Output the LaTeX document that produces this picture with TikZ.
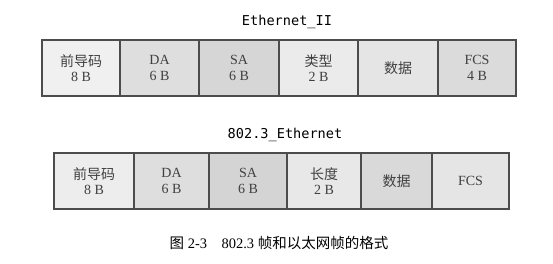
\documentclass[tikz,border=0pt]{standalone}
\usepackage{fontspec}
\setmainfont{Liberation Serif}
\newfontfamily\cjk{Noto Sans CJK SC}
\newfontfamily\monofont{DejaVu Sans Mono}
\begin{document}
\begin{tikzpicture}[x=1pt,y=1pt,
  cell/.style={draw=black!70, line width=1.3pt, minimum height=56pt,
    inner sep=0pt, align=center, font=\fontsize{14}{15.5}\selectfont, text=black!75},
  rowtitle/.style={font=\monofont\fontsize{13.6}{16}\selectfont, text=black},
  caption/.style={font=\fontsize{14.5}{16}\selectfont, text=black}]
\useasboundingbox (0,0) rectangle (553,263);
\fill[white] (0,0) rectangle (553,263);

% Ethernet II frame
\node[rowtitle] (t1) at (287,241) {Ethernet\_II};
\node[cell, fill=black!6,  minimum width=78pt] (a1) at (81,195)   {{\cjk 前导码}\\8 B};
\node[cell, fill=black!13, minimum width=79pt] (a2) at (159.5,195){DA\\6 B};
\node[cell, fill=black!16, minimum width=80pt] (a3) at (239,195)  {SA\\6 B};
\node[cell, fill=black!8,  minimum width=79pt] (a4) at (318.5,195){{\cjk 类型}\\2 B};
\node[cell, fill=black!10, minimum width=80pt] (a5) at (398,195)  {{\cjk 数据}};
\node[cell, fill=black!14, minimum width=78pt] (a6) at (477,195)  {FCS\\4 B};

% IEEE 802.3 frame
\node[rowtitle] (t2) at (285,128) {802.3\_Ethernet};
\node[cell, fill=black!7,  minimum width=80pt] (b1) at (94,82)    {{\cjk 前导码}\\8 B};
\node[cell, fill=black!13, minimum width=75pt] (b2) at (171.5,82) {DA\\6 B};
\node[cell, fill=black!17, minimum width=78pt] (b3) at (248,82)   {SA\\6 B};
\node[cell, fill=black!9,  minimum width=74pt] (b4) at (324,82)   {{\cjk 长度}\\2 B};
\node[cell, fill=black!15, minimum width=71pt] (b5) at (396.5,82) {{\cjk 数据}};
\node[cell, fill=black!10, minimum width=77pt] (b6) at (470.5,82) {FCS};

% figure caption
\node[caption] (cap) at (279,20) {{\cjk 图} 2-3\quad 802.3 {\cjk 帧和以太网帧的格式}};
\end{tikzpicture}
\end{document}
